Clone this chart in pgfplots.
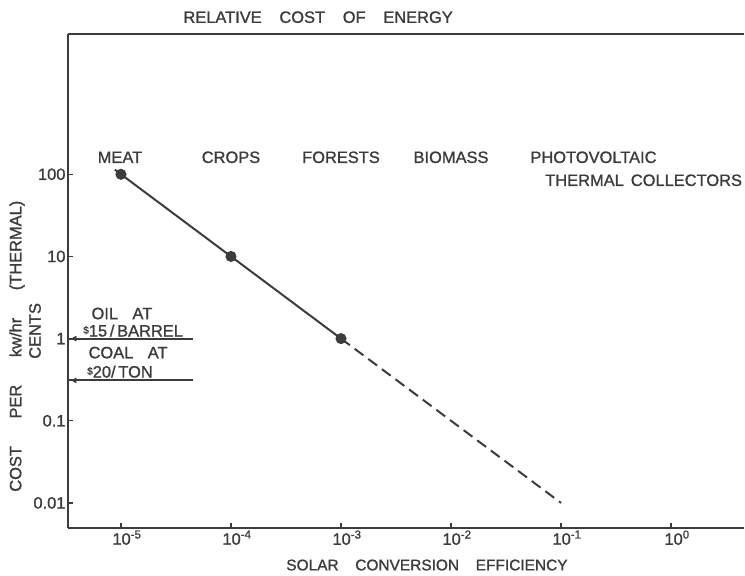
\documentclass[border=0pt]{standalone}
\usepackage{fontspec}
\setmainfont{Liberation Sans}[FakeBold=1.2]
\usepackage{pgfplots}
\pgfplotsset{compat=1.18}
\definecolor{ink}{HTML}{3C3C3C}
\newcommand{\lab}{\fontsize{16.5}{19}\selectfont}
\newcommand{\labs}{\fontsize{15.5}{18}\selectfont}
\newcommand{\dol}{\raisebox{3pt}{\fontsize{10}{10}\selectfont\$}}
\begin{document}
\begin{tikzpicture}
\begin{axis}[
  scale only axis, width=676bp, height=494bp,
  xmode=log, ymode=log,
  xmin=3.3e-6, xmax=4.6, ymin=0.00495, ymax=5100,
  axis x line=bottom, axis y line=left,
  axis line style={-, ink, line width=2pt},
  tick align=inside, major tick length=5bp,
  tick style={ink, line width=1.4pt},
  xminorticks=false, yminorticks=false,
  xtick={1e-5,1e-4,1e-3,1e-2,1e-1,1},
  xticklabels={10\textsuperscript{-5},10\textsuperscript{-4},10\textsuperscript{-3},10\textsuperscript{-2},10\textsuperscript{-1},10\textsuperscript{0}},
  ytick={0.01,0.1,1,10,100},
  yticklabels={0.01,0.1,1,10,100},
  tick label style={font=\lab, text=ink},
  xticklabel style={xshift=6bp, yshift=1bp},
  yticklabel style={xshift=1bp},
  clip=false,
]
% main relation
\addplot[ink, line width=2pt, mark=*, mark size=4.5pt, mark options={solid, fill=ink}] coordinates {(1e-5,100) (1e-4,10) (1e-3,1)};
\addplot[ink, line width=2pt, mark=none] coordinates {(8.8e-6,114) (1e-5,100)};
\addplot[ink, line width=2pt, dash pattern=on 11bp off 6bp] coordinates {(1e-3,1) (1e-1,0.01)};
% oil and coal
\addplot[ink, line width=2pt] coordinates {(3.3e-6,1) (4.5e-5,1)};
\addplot[ink, line width=2pt] coordinates {(3.3e-6,0.31) (4.5e-5,0.31)};
\addplot[ink, only marks, mark=triangle*, mark size=3pt, mark options={rotate=90, fill=ink}] coordinates {(3.8e-6,1) (3.8e-6,0.31)};
% top line
\draw[ink, line width=2pt] (rel axis cs:0,1) -- (rel axis cs:1,1);
% labels
\node[font=\lab, text=ink] at (axis cs:0.98e-5,161) {MEAT};
\node[font=\lab, text=ink] at (axis cs:1e-4,161) {CROPS};
\node[font=\lab, text=ink] at (axis cs:1e-3,161) {FORESTS};
\node[font=\lab, text=ink] at (axis cs:1e-2,161) {BIOMASS};
\node[font=\lab, text=ink, anchor=west, inner sep=0pt] at (axis cs:0.0525,161) {PHOTOVOLTAIC};
\node[font=\lab, text=ink, anchor=west, inner sep=0pt] at (axis cs:0.0716,84.5) {THERMAL\hspace{0.15em} COLLECTORS};
\node[font=\lab, text=ink] at (axis cs:1.02e-5,2.02) {OIL\hspace{0.6em} AT};
\node[font=\lab, text=ink] at (axis cs:1.29e-5,1.25) {\dol15\,/\,BARREL};
\node[font=\lab, text=ink] at (axis cs:1.16e-5,0.675) {COAL\hspace{0.6em} AT};
\node[font=\lab, text=ink] at (axis cs:0.98e-5,0.396) {\dol20/\,TON};
% title and axis labels
\node[font=\lab, text=ink] at (rel axis cs:0.370,1.034) {RELATIVE\hspace{0.8em} COST\hspace{0.8em} OF\hspace{0.8em} ENERGY};
\node[font=\labs, text=ink] at (rel axis cs:0.531,-0.075) {SOLAR\hspace{0.8em} CONVERSION\hspace{0.8em} EFFICIENCY};
\node[font=\lab, text=ink, rotate=90] at (rel axis cs:-0.0754,0.368) {COST\hspace{1.4em} PER\hspace{1.4em} kw/hr\hspace{1.4em} (THERMAL)};
\node[font=\lab, text=ink, rotate=90] at (rel axis cs:-0.0488,0.399) {CENTS};
\end{axis}
\pgfresetboundingbox
\path[use as bounding box] (-68bp,-48bp) rectangle (677bp,528bp);
\end{tikzpicture}
\end{document}
